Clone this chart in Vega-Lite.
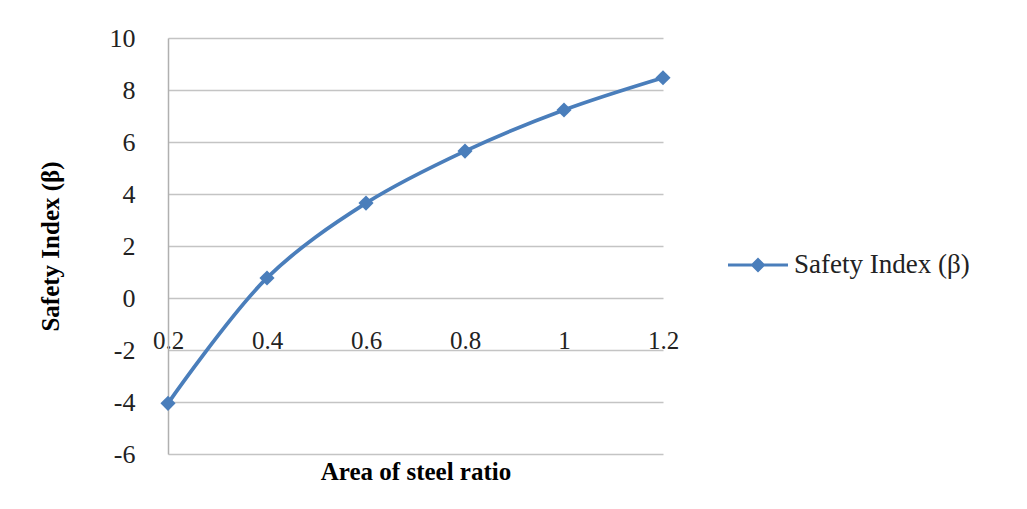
{
  "$schema": "https://vega.github.io/schema/vega-lite/v6.json",
  "width": 495,
  "height": 416,
  "autosize": {"type": "none"},
  "padding": {"left": 168, "top": 38, "right": 364, "bottom": 55},
  "background": "white",
  "data": {
    "values": [
      {"ratio": 0.2, "beta": -4.05, "series": "Safety Index (β)"},
      {"ratio": 0.4, "beta": 0.77, "series": "Safety Index (β)"},
      {"ratio": 0.6, "beta": 3.65, "series": "Safety Index (β)"},
      {"ratio": 0.8, "beta": 5.65, "series": "Safety Index (β)"},
      {"ratio": 1.0, "beta": 7.23, "series": "Safety Index (β)"},
      {"ratio": 1.2, "beta": 8.47, "series": "Safety Index (β)"}
    ]
  },
  "encoding": {
    "x": {
      "field": "ratio",
      "type": "quantitative",
      "scale": {"domain": [0.2, 1.2], "nice": false, "zero": false},
      "axis": {
        "title": "Area of steel ratio",
        "values": [0.2, 0.4, 0.6, 0.8, 1, 1.2],
        "format": "~g",
        "grid": false,
        "domain": false,
        "ticks": false,
        "offset": -156,
        "labelPadding": 30,
        "labelFont": "Liberation Serif",
        "labelFontSize": 25,
        "labelColor": "#222222",
        "labelFlush": false,
        "titleFont": "Liberation Serif",
        "titleFontSize": 25,
        "titleFontWeight": "bold",
        "titleColor": "black",
        "titleY": 161
      }
    },
    "y": {
      "field": "beta",
      "type": "quantitative",
      "scale": {"domain": [-6, 10], "nice": false},
      "axis": {
        "title": "Safety Index (β)",
        "values": [-6, -4, -2, 0, 2, 4, 6, 8, 10],
        "labelExpr": "replace(datum.label, '\u2212', '-')",
        "grid": true,
        "gridColor": "#c4c4c4",
        "gridWidth": 1.5,
        "domain": true,
        "domainColor": "#b0b0b0",
        "domainWidth": 1.5,
        "ticks": false,
        "labelPadding": 33,
        "labelFont": "Liberation Serif",
        "labelFontSize": 26,
        "labelColor": "#222222",
        "titleFont": "Liberation Serif",
        "titleFontSize": 25,
        "titleFontWeight": "bold",
        "titleColor": "black",
        "titlePadding": 46
      }
    },
    "color": {
      "field": "series",
      "type": "nominal",
      "scale": {"range": ["#4a7ebb"]},
      "legend": {
        "title": null,
        "orient": "none",
        "legendX": 560,
        "legendY": 197,
        "labelFont": "Liberation Serif",
        "labelFontSize": 27,
        "labelColor": "#222222",
        "labelLimit": 400,
        "symbolType": "M-1,-0.05H1V0.05H-1Z M0,-0.25L0.25,0L0,0.25L-0.25,0Z",
        "symbolSize": 3600,
        "symbolStrokeWidth": 0,
        "symbolFillColor": "#4a7ebb",
        "symbolOpacity": 1,
        "labelOffset": 6
      }
    }
  },
  "layer": [
    {
      "mark": {"type": "line", "interpolate": "catmull-rom", "strokeWidth": 3.8}
    },
    {
      "mark": {"type": "point", "shape": "diamond", "filled": true, "size": 230, "opacity": 1}
    }
  ],
  "config": {
    "view": {"stroke": null},
    "legend": {"symbolLimit": 1}
  }
}
